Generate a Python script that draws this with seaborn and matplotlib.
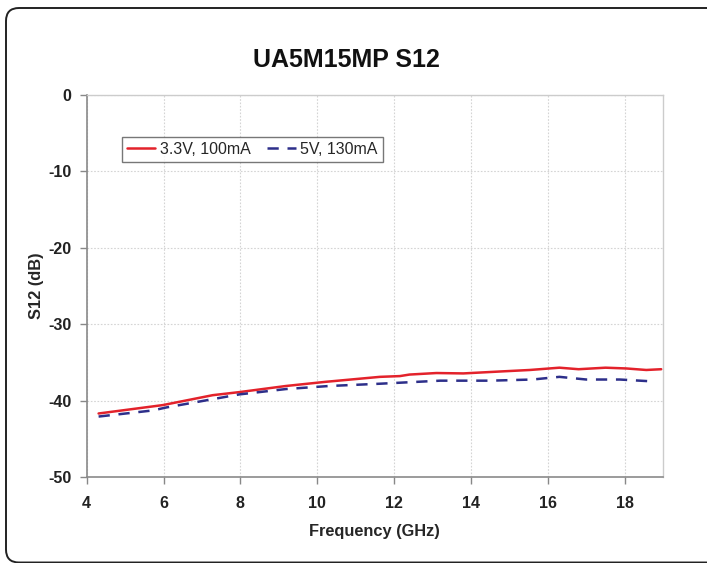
import numpy as np
import pandas as pd
import matplotlib
matplotlib.use("Agg")
import matplotlib.pyplot as plt
from matplotlib.patches import FancyBboxPatch
from matplotlib.transforms import IdentityTransform
import seaborn as sns

# ---- data ----
freq_a = [4.31, 5.98, 7.28, 7.97, 9.18, 10.22, 11.63, 12.15, 12.4, 13.1, 13.8,
          14.75, 15.53, 16.3, 16.8, 17.5, 18.04, 18.56, 18.95]
s12_a = [-41.7, -40.6, -39.3, -38.9, -38.1, -37.55, -36.9, -36.8, -36.6, -36.4, -36.45,
         -36.2, -36.0, -35.7, -35.9, -35.7, -35.8, -36.0, -35.9]
freq_b = [4.31, 5.72, 6.08, 6.86, 7.97, 9.18, 10.3, 11.63, 13.2, 14.5, 15.6,
          16.3, 17.0, 17.87, 18.74]
s12_b = [-42.1, -41.3, -40.9, -40.2, -39.2, -38.5, -38.1, -37.8, -37.4, -37.4, -37.25,
         -36.9, -37.25, -37.25, -37.5]
series_labels = ["3.3V, 100mA", "5V, 130mA"]
x_ticks = [4, 6, 8, 10, 12, 14, 16, 18]
y_ticks = [0, -10, -20, -30, -40, -50]
title = "UA5M15MP S12"
x_label = "Frequency (GHz)"
y_label = "S12 (dB)"

sns.set_theme(style="white")
plt.rcParams['font.family'] = ['Liberation Sans', 'DejaVu Sans']

fig = plt.figure(figsize=(7.07, 5.63), dpi=100)
ax = fig.add_axes([0.1226, 0.153, 0.8154, 0.678])

dfa = pd.DataFrame({"f": freq_a, "s": s12_a})
dfb = pd.DataFrame({"f": freq_b, "s": s12_b})
sns.lineplot(data=dfa, x="f", y="s", ax=ax, color="#e3222b", linewidth=1.8,
             label=series_labels[0])
sns.lineplot(data=dfb, x="f", y="s", ax=ax, color="#2d2f8a", linewidth=1.8,
             dashes=False, label=series_labels[1])
ax.lines[1].set_dashes([4.5, 3.5])

ax.set_xlim(4, 19)
ax.set_ylim(-50, 0)
ax.set_xticks(x_ticks)
ax.set_yticks(y_ticks)
ax.set_xticklabels([str(t) for t in x_ticks], fontsize=11.5, fontweight="bold", color="#222222")
ax.set_yticklabels([str(t) for t in y_ticks], fontsize=11.5, fontweight="bold", color="#222222")
ax.grid(True, color="#d4d4d4", linestyle=(0, (1.5, 1.5)), linewidth=0.8)
ax.tick_params(axis="x", direction="out", length=5, width=1, color="#888888", pad=9,
               bottom=True)
ax.tick_params(axis="y", direction="out", length=5, width=1, color="#888888", pad=6,
               left=True)
for side in ["left", "bottom"]:
    ax.spines[side].set_color("#8a8a8a")
    ax.spines[side].set_linewidth(1.2)
for side in ["top", "right"]:
    ax.spines[side].set_color("#cccccc")
    ax.spines[side].set_linewidth(1.0)

ax.set_xlabel(x_label, fontsize=11.8, fontweight="bold", labelpad=9)
ax.set_ylabel(y_label, fontsize=11.8, fontweight="bold", labelpad=3)
fig.text(0.4904, 0.894, title, ha="center", va="center", fontsize=18, fontweight="bold",
         color="#111111")

leg = ax.legend(loc="upper left", bbox_to_anchor=(0.061, 0.89), borderaxespad=0,
                ncol=2, fontsize=11.5, frameon=True, fancybox=False, handlelength=1.8,
                columnspacing=1.0, handletextpad=0.3, borderpad=0.3)
leg.get_frame().set_edgecolor("#555555")
leg.get_frame().set_linewidth(1.0)

# rounded frame around the figure (display pixels)
box = FancyBboxPatch((6, 0.5), 760, 554.5,
                     boxstyle="round,pad=0,rounding_size=13",
                     transform=IdentityTransform(), fill=False, edgecolor="#222222",
                     linewidth=1.4, clip_on=False)
fig.patches.append(box)

fig.savefig("out.png", dpi=100)
